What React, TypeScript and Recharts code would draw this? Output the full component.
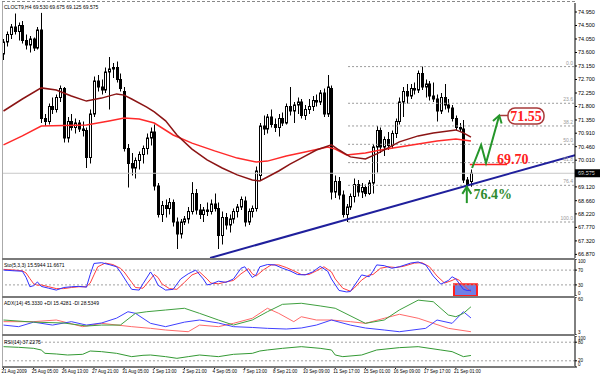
import React from "react";
import {
  ComposedChart,
  Bar,
  Line,
  Scatter,
  XAxis,
  YAxis,
  ReferenceLine,
  ReferenceArea,
} from "recharts";

const TITLE = "CLOCT9,H4  69.530 69.675 69.125 69.575";
const STO_TITLE = "Sto(5,3,3) 15.5944 11.6671";
const ADX_TITLE = "ADX(14) 45.3330 +DI 15.4281 -DI 28.5349";
const RSI_TITLE = "RSI(14) 37.2275";

// open, high, low, close for each H4 bar
const candles = [
  [73.55, 74.05, 73.35, 73.95], [73.95, 74.3, 73.8, 74.2], [74.2, 74.55, 74.05, 74.45], [74.45, 74.9, 74.2, 74.3],
  [74.3, 74.6, 74.0, 74.5], [74.5, 74.65, 73.9, 74.0], [74.0, 74.2, 73.7, 73.85], [73.85, 74.15, 73.6, 74.05],
  [74.05, 74.1, 73.65, 73.75], [73.75, 74.45, 73.7, 74.35], [74.35, 74.92, 71.25, 71.4], [71.4, 71.55, 71.15, 71.3],
  [71.3, 71.9, 71.2, 71.8], [71.8, 72.1, 71.55, 71.7], [71.7, 72.2, 71.6, 72.1], [72.1, 72.5, 71.95, 72.4],
  [72.4, 72.45, 70.6, 70.75], [70.75, 71.45, 70.6, 71.3], [71.3, 71.55, 71.0, 71.1], [71.1, 71.4, 70.9, 71.25],
  [71.25, 71.35, 70.95, 71.05], [71.05, 71.3, 70.8, 71.0], [71.0, 71.1, 69.75, 70.1], [70.1, 71.7, 69.9, 71.55],
  [71.55, 72.8, 71.45, 72.65], [72.65, 72.85, 72.3, 72.45], [72.45, 72.7, 72.2, 72.35], [72.35, 73.1, 72.25, 72.95],
  [72.95, 73.45, 71.7, 73.05], [73.05, 73.25, 72.75, 73.1], [73.1, 73.3, 72.6, 72.7], [72.7, 72.9, 72.3, 72.4],
  [72.3, 72.45, 70.3, 70.4], [70.4, 70.55, 69.1, 69.9], [69.9, 70.25, 69.5, 69.75], [69.75, 70.1, 69.4, 70.0],
  [70.0, 70.3, 69.7, 70.2], [70.2, 70.5, 69.9, 70.4], [70.4, 70.9, 70.2, 70.75], [70.75, 71.1, 70.5, 70.95],
  [70.95, 71.2, 69.0, 69.15], [69.15, 69.25, 68.1, 68.2], [68.2, 68.65, 67.95, 68.5], [68.5, 68.7, 68.1, 68.4],
  [68.4, 68.75, 68.2, 68.6], [68.6, 68.7, 67.8, 67.95], [67.95, 68.1, 67.05, 67.55], [67.55, 68.05, 67.4, 67.95],
  [67.95, 68.15, 67.85, 68.05], [68.05, 68.45, 67.9, 68.3], [68.3, 69.28, 68.2, 68.9], [68.9, 69.05, 68.2, 68.35],
  [68.35, 68.55, 68.05, 68.2], [68.2, 68.45, 67.95, 68.35], [68.35, 68.6, 68.15, 68.3], [68.3, 68.7, 68.2, 68.55],
  [68.55, 68.9, 68.3, 68.4], [68.4, 68.6, 67.05, 67.5], [67.5, 68.3, 67.2, 68.1], [68.1, 68.25, 67.7, 67.85],
  [67.85, 68.2, 67.6, 68.05], [68.05, 68.4, 67.9, 68.3], [68.3, 68.55, 68.1, 68.45], [68.45, 68.8, 68.35, 68.7],
  [68.65, 68.8, 67.8, 67.95], [67.95, 68.4, 67.85, 68.3], [68.3, 68.5, 68.1, 68.4], [68.4, 69.8, 68.3, 69.65],
  [69.5, 71.25, 69.35, 71.15], [71.15, 71.5, 70.85, 71.05], [71.05, 71.55, 70.9, 71.45], [71.45, 71.7, 71.1, 71.2],
  [71.2, 71.4, 70.95, 71.1], [71.1, 71.55, 70.8, 71.4], [71.4, 71.6, 71.15, 71.25], [71.25, 71.9, 71.2, 71.8],
  [71.8, 72.45, 71.5, 71.65], [71.65, 71.95, 71.25, 71.85], [71.85, 72.1, 71.55, 71.95], [71.95, 72.05, 71.4, 71.5],
  [71.5, 71.85, 71.35, 71.7], [71.7, 72.05, 71.55, 71.8], [71.8, 72.15, 71.65, 72.0], [72.0, 72.2, 71.8, 71.95],
  [71.95, 72.35, 71.85, 72.25], [72.25, 72.4, 71.45, 71.55], [71.55, 72.85, 71.45, 72.45], [72.4, 72.5, 68.7, 68.95],
  [68.95, 69.5, 68.75, 69.3], [69.3, 69.45, 68.7, 68.85], [68.85, 69.0, 68.1, 68.2], [68.2, 68.55, 67.95, 68.45],
  [68.45, 68.9, 68.35, 68.8], [68.8, 69.4, 68.6, 69.2], [69.2, 69.35, 68.8, 68.95], [68.95, 69.25, 68.75, 69.1],
  [69.1, 69.2, 68.8, 68.9], [68.9, 69.35, 68.85, 69.25], [69.25, 70.55, 68.9, 70.45], [70.45, 71.15, 69.6, 71.0],
  [71.0, 71.1, 70.25, 70.45], [70.45, 70.8, 70.15, 70.7], [70.7, 70.95, 70.35, 70.5], [70.5, 71.0, 70.4, 70.9],
  [70.9, 71.4, 70.75, 71.3], [71.3, 72.1, 71.2, 71.95], [71.95, 72.45, 71.45, 72.3], [72.3, 72.55, 71.9, 72.15],
  [72.15, 72.55, 72.05, 72.4], [72.4, 72.6, 72.2, 72.35], [72.35, 73.0, 72.25, 72.9], [72.9, 73.13, 72.35, 72.45],
  [72.45, 72.7, 72.1, 72.55], [72.55, 72.65, 72.0, 72.15], [72.15, 72.6, 71.95, 72.05], [72.05, 72.2, 71.3, 71.65],
  [71.65, 72.25, 71.55, 72.1], [72.1, 72.55, 71.7, 71.85], [71.85, 72.05, 71.6, 71.75], [71.75, 71.85, 71.3, 71.4],
  [71.4, 71.5, 71.0, 71.1], [71.1, 71.25, 70.95, 71.05], [71.05, 71.35, 69.25, 69.35], [69.35, 69.45, 69.1, 69.2],
  [69.3, 69.7, 69.125, 69.575],
];

const timeLabels = [
  "21 Aug 2009", "25 Aug 05:00", "26 Aug 13:00", "27 Aug 21:00", "31 Aug 05:00", "1 Sep 13:00",
  "2 Sep 21:00", "4 Sep 05:00", "7 Sep 13:00", "8 Sep 21:00", "10 Sep 09:00", "11 Sep 17:00",
  "15 Sep 01:00", "16 Sep 09:00", "17 Sep 17:00", "21 Sep 01:00",
];
const timeTicks = timeLabels.map((_, i) => i * 8);

const priceTicks = [
  74.95, 74.5, 74.05, 73.6, 73.15, 72.7, 72.25, 71.8, 71.35, 70.91, 70.46, 70.01,
  69.56, 69.12, 68.66, 68.22, 67.77, 67.32, 66.87,
];
const lastPrice = 69.575;

// moving averages: [bar, price]
const maDark = [
  [0, 71.65], [5, 72.05], [10, 72.42], [14, 72.35], [18, 72.15], [22, 71.98], [26, 72.08], [30, 72.22],
  [32, 72.18], [34, 72.05], [38, 71.78], [40, 71.62], [43, 71.32], [46, 70.85], [50, 70.38], [54, 70.02],
  [58, 69.75], [62, 69.52], [66, 69.35], [68, 69.32], [70, 69.45], [73, 69.65], [76, 69.88], [79, 70.08],
  [83, 70.35], [87, 70.52], [89, 70.35], [92, 70.12], [96, 70.05], [99, 70.22], [102, 70.42], [105, 70.62],
  [110, 70.82], [114, 70.92], [120, 71.02], [122, 70.92], [124, 70.78],
];
const maRed = [
  [0, 70.52], [5, 70.82], [10, 71.15], [16, 71.17], [22, 71.18], [28, 71.32], [32, 71.42], [36, 71.38],
  [40, 71.25], [45, 70.85], [50, 70.58], [56, 70.32], [62, 70.08], [67, 69.95], [70, 69.98], [75, 70.15],
  [80, 70.28], [86, 70.45], [88, 70.38], [91, 70.18], [96, 70.25], [100, 70.35], [105, 70.45], [110, 70.55],
  [115, 70.65], [120, 70.72], [124, 70.65],
];

const trendLine = [[54.8, 66.75], [151.6, 70.18]];
const fibStartBar = 91.4;
const fibHigh = 73.13;
const fibLow = 67.95;
const fibLevels = [0, 23.6, 38.2, 50, 61.8, 76.4, 100];

// hand-drawn forecast marks
const targetLine = [[123.7, 69.87], [133.6, 69.87]];
const zigzag = [[124.3, 69.75], [126.7, 70.52], [128.0, 69.92], [131.5, 71.5]];
const upArrow = [[122.9, 68.58], [122.9, 69.12]];
const boxLink = [[131.7, 71.5], [134, 71.5]];
const notes = [
  { bar: 135.1, price: 70.05, text: "69.70", color: "#ff2020", box: false },
  { bar: 129.8, price: 68.88, text: "76.4%", color: "#2e8b2e", box: false },
  { bar: 138.6, price: 71.48, text: "71.55", color: "#ff2020", box: true },
];

// stochastic: [bar, value]
const stoMain = [
  [0, 70], [3, 68], [5, 67], [6, 50], [7, 25], [8, 28], [9, 38], [10, 26], [12, 21], [14, 16], [16, 23],
  [18, 25], [20, 26], [22, 24], [23, 58], [24, 88], [26, 90], [28, 85], [30, 79], [31, 65], [33, 33],
  [34, 18], [36, 16], [37, 33], [39, 65], [40, 50], [41, 29], [43, 16], [45, 18], [47, 46], [49, 60],
  [51, 70], [53, 46], [54, 30], [55, 32], [57, 40], [59, 37], [61, 46], [63, 75], [64, 79], [66, 50],
  [67, 57], [68, 79], [70, 85], [72, 84], [74, 75], [76, 68], [78, 58], [80, 57], [82, 65], [84, 80],
  [86, 67], [87, 46], [89, 15], [91, 11], [92, 12], [94, 42], [95, 57], [97, 52], [98, 67], [99, 84],
  [101, 82], [103, 75], [105, 79], [108, 89], [110, 92], [112, 84], [114, 54], [116, 32], [118, 42],
  [119, 52], [120, 46], [121, 32], [122, 18], [123, 15], [124, 15.59],
];
const stoSignal = [
  [0, 72], [3, 70], [5, 68], [6, 62], [7, 47], [8, 33], [9, 29], [10, 30], [12, 25], [14, 20], [16, 20],
  [18, 23], [20, 25], [22, 25], [23, 35], [24, 57], [25, 79], [27, 89], [29, 85], [31, 75], [32, 65],
  [34, 37], [35, 23], [37, 21], [38, 33], [40, 58], [41, 50], [42, 33], [44, 20], [46, 18], [48, 37],
  [50, 57], [52, 65], [54, 46], [55, 35], [57, 33], [59, 38], [61, 42], [63, 60], [65, 74], [66, 60],
  [67, 54], [69, 71], [71, 84], [73, 84], [75, 77], [77, 68], [79, 58], [81, 58], [83, 68], [85, 79],
  [87, 65], [88, 46], [90, 21], [92, 13], [93, 21], [95, 43], [97, 57], [98, 58], [100, 75], [102, 79],
  [104, 77], [106, 80], [109, 89], [111, 90], [113, 79], [115, 54], [117, 35], [119, 42], [120, 47],
  [121, 42], [122, 29], [123, 20], [124, 11.67],
];
const stoLevels = [70, 30];
const stoTicks = [100, 70, 30, 0];

// ADX panel: [bar, value]
const adxLine = [
  [0, 25.5], [8, 22.3], [16, 21], [22, 16.5], [26, 17.9], [31, 17.9], [35, 35.5], [38, 37.9], [43, 40.5],
  [48, 43.1], [52, 35.5], [57, 25.5], [61, 17.9], [66, 25.5], [70, 37.9], [74, 49], [79, 50.6], [84, 46.6],
  [88, 43.1], [96, 20.5], [101, 25.5], [105, 40.5], [110, 55.3], [114, 52.9], [118, 33], [120, 30.4],
  [122, 35.5], [124, 45.33],
];
const diBlue = [
  [0, 17.9], [4, 15.5], [8, 22.3], [13, 17.9], [18, 23], [22, 17.9], [26, 21], [30, 28.3], [33, 37.9],
  [35, 35.5], [39, 20.5], [43, 15.5], [48, 22.3], [52, 25.5], [57, 21], [61, 15.5], [66, 14.3], [70, 13],
  [75, 12], [79, 13.5], [83, 17.9], [87, 25.5], [92, 17.9], [96, 13.5], [101, 10.5], [105, 7.9], [112, 13],
  [115, 25.5], [119, 20.5], [122, 37.9], [124, 28.53],
];
const diRed = [
  [0, 23], [8, 23], [14, 25.5], [21, 15.5], [26, 20.5], [34, 15.5], [39, 13], [43, 10.5], [49, 7.9],
  [52, 17.9], [57, 15.5], [61, 20.5], [66, 28.1], [70, 43.1], [73, 35.5], [77, 23], [79, 30.4], [83, 25.5],
  [87, 25.5], [92, 23], [96, 20.5], [101, 28.1], [105, 34.1], [110, 28.1], [114, 20.5], [118, 13], [124, 7.9],
];
const adxTicks = [60, 3];

// RSI: [bar, value]
const rsiLine = [
  [0, 65.6], [4, 63.5], [8, 60.2], [10, 54.9], [11, 44.1], [14, 42], [17, 38.7], [21, 40.9], [23, 51.6],
  [26, 49.5], [30, 44.1], [34, 33.4], [37, 37.7], [39, 38.7], [43, 33.4], [46, 28], [49, 33.4], [52, 38.7],
  [55, 35.5], [57, 33.4], [61, 40.9], [66, 44.1], [68, 51.6], [70, 54.9], [74, 60.2], [79, 65.6], [84, 60.2],
  [87, 54.9], [88, 38.7], [90, 33.4], [95, 38.7], [99, 54.9], [105, 62.4], [110, 65.6], [116, 54.9],
  [119, 49.5], [122, 33.4], [124, 37.23],
];
const rsiLevels = [80, 20];
const rsiTicks = [100, 80, 20, 0];

const X_DOMAIN = [-0.4, 151.6];
const FONT = "Liberation Sans, Arial, sans-serif";

const pts = (arr: number[][]) => arr.map(([bar, v]) => ({ bar, v }));

function Candle(props: any) {
  const { x, y, width, height, payload } = props;
  const { o, h, l, c } = payload;
  const k = height / (h - l);
  const cx = Math.round(x + width / 2) + 0.5;
  const yo = y + (h - o) * k;
  const yc = y + (h - c) * k;
  const top = Math.min(yo, yc);
  const bh = Math.max(1, Math.abs(yc - yo));
  const up = c >= o;
  return (
    <g>
      <line x1={cx} x2={cx} y1={y} y2={y + height} stroke="#000" strokeWidth={1} />
      <rect x={cx - 1} y={top} width={2} height={bh} fill={up ? "#fff" : "#000"} stroke="#000" strokeWidth={1} />
    </g>
  );
}

// edge labels sit inside the panel, the way the terminal draws them
function AxisTick(props: any) {
  const { x, y, payload, digits, lo, hi, size = 5.5 } = props;
  let nudge = 0;
  if (hi !== undefined && payload.value === hi) nudge = 2.5;
  if (lo !== undefined && payload.value === lo) nudge = -2.5;
  return (
    <text x={x} y={y + nudge} dy={size * 0.36} fontSize={size} fontFamily={FONT} fill="#000" textAnchor="start">
      {digits ? payload.value.toFixed(digits) : String(payload.value)}
    </text>
  );
}

function TimeTick(props: any) {
  const { x, y, payload } = props;
  const idx = timeTicks.indexOf(payload.value);
  return (
    <text x={x - 2} y={y} dy={3} fontSize={4.5} fontFamily={FONT} fill="#000" textAnchor="start">
      {timeLabels[idx]}
    </text>
  );
}

function ArrowTip({ cx, cy, angle, color }: any) {
  return (
    <path
      d="M -7 -4.5 L 0 0 L -7 4.5"
      transform={`translate(${cx},${cy}) rotate(${angle})`}
      fill="none"
      stroke={color}
      strokeWidth={2}
    />
  );
}

function NoteShape(props: any) {
  const { cx, cy, payload } = props;
  return (
    <g>
      {payload.box && (
        <rect x={cx - 18} y={cy - 8} width={36} height={16} rx={7} fill="#fff" stroke="#a83a3a" strokeWidth={1.5} />
      )}
      <text
        x={cx}
        y={cy}
        dy={4.5}
        textAnchor="middle"
        fontFamily="Liberation Serif, Times New Roman, serif"
        fontWeight="bold"
        fontSize={14}
        fill={payload.color}
      >
        {payload.text}
      </text>
    </g>
  );
}

function PriceTag(props: any) {
  const { viewBox } = props;
  const x = viewBox.x + viewBox.width;
  return (
    <g>
      <rect x={x} y={viewBox.y - 4} width={25} height={8} fill="#000" />
      <text x={x + 3} y={viewBox.y} dy={2} fontSize={5.5} fontFamily={FONT} fill="#fff">
        {lastPrice.toFixed(3)}
      </text>
    </g>
  );
}

const titleStyle: React.CSSProperties = {
  position: "absolute",
  left: 4,
  fontSize: 5,
  fontFamily: FONT,
  color: "#000",
  whiteSpace: "nowrap",
  lineHeight: "6px",
};

const sep = (top: number): React.CSSProperties => ({
  position: "absolute",
  left: 2,
  top,
  width: 573,
  height: 2,
  background: "#7a7a7a",
});

export default function App() {
  const rows = candles.map(([o, h, l, c], i) => ({ bar: i, o, h, l, c, range: [l, h] }));
  const fibRange = fibHigh - fibLow;
  const lastZig = zigzag.length - 1;

  const subY = (domain: number[], ticks: number[]) => (
    <YAxis
      orientation="right"
      type="number"
      domain={domain}
      ticks={ticks}
      interval={0}
      width={25}
      tickSize={2}
      tickMargin={1}
      tickLine={{ stroke: "#000" }}
      axisLine={{ stroke: "#000" }}
      tick={<AxisTick lo={domain[0]} hi={domain[1]} size={4.6} />}
      allowDataOverflow
    />
  );

  return (
    <div style={{ position: "absolute", left: 0, top: 0, width: 600, height: 376, background: "#fff", overflow: "hidden" }}>
      <div style={{ position: "absolute", left: 0, top: 0 }}>
        <ComposedChart width={600} height={258} data={rows} margin={{ top: 3, right: 0, bottom: 0, left: 2 }}>
          <XAxis dataKey="bar" type="number" domain={X_DOMAIN} hide allowDataOverflow />
          <YAxis
            orientation="right"
            type="number"
            domain={[66.75, 75.25]}
            ticks={priceTicks}
            interval={0}
            width={25}
            tickSize={2}
            tickMargin={1}
            tickLine={{ stroke: "#000" }}
            axisLine={{ stroke: "#000" }}
            tick={<AxisTick digits={3} />}
            allowDataOverflow
          />
          <ReferenceLine y={lastPrice} stroke="#c8c8c8" strokeWidth={1} label={<PriceTag />} />
          {fibLevels.map((lv) => {
            const p = fibHigh - (lv / 100) * fibRange;
            return (
              <ReferenceLine
                key={lv}
                segment={[{ x: fibStartBar, y: p }, { x: X_DOMAIN[1], y: p }]}
                stroke="#9a9a9a"
                strokeDasharray="2 2"
                label={{ value: lv.toFixed(1), position: "insideBottomRight", offset: 2, fontSize: 5, fill: "#999", fontFamily: FONT }}
              />
            );
          })}
          <Bar dataKey="range" barSize={3} shape={(p: any) => <Candle {...p} />} isAnimationActive={false} />
          <Line data={pts(maRed)} dataKey="v" stroke="#ff2a2a" strokeWidth={1.5} dot={false} isAnimationActive={false} />
          <Line data={pts(maDark)} dataKey="v" stroke="#8b1414" strokeWidth={1.5} dot={false} isAnimationActive={false} />
          <ReferenceLine
            segment={trendLine.map(([x, y]) => ({ x, y }))}
            stroke="#1f1f9c"
            strokeWidth={2}
            ifOverflow="hidden"
          />
          <ReferenceLine segment={targetLine.map(([x, y]) => ({ x, y }))} stroke="#ff2020" strokeWidth={1.5} />
          <ReferenceLine segment={boxLink.map(([x, y]) => ({ x, y }))} stroke="#a83a3a" strokeWidth={1.5} />
          <Line
            data={pts(zigzag)}
            dataKey="v"
            stroke="#25962a"
            strokeWidth={2}
            isAnimationActive={false}
            dot={(p: any) =>
              p.index === lastZig ? (
                <ArrowTip key="tip" cx={p.cx} cy={p.cy} angle={-74} color="#25962a" />
              ) : (
                <g key={p.index} />
              )
            }
          />
          <Line
            data={pts(upArrow)}
            dataKey="v"
            stroke="#25962a"
            strokeWidth={2}
            isAnimationActive={false}
            dot={(p: any) =>
              p.index === 1 ? <ArrowTip key="tip" cx={p.cx} cy={p.cy} angle={-90} color="#25962a" /> : <g key={p.index} />
            }
          />
          <Scatter data={notes} dataKey="price" shape={(p: any) => <NoteShape {...p} />} isAnimationActive={false} />
        </ComposedChart>
      </div>

      <div style={{ position: "absolute", left: 0, top: 259 }}>
        <ComposedChart width={600} height={37} margin={{ top: 0, right: 0, bottom: 0, left: 2 }}>
          <XAxis dataKey="bar" type="number" domain={X_DOMAIN} hide allowDataOverflow />
          {subY([0, 100], stoTicks)}
          {stoLevels.map((v) => (
            <ReferenceLine key={v} y={v} stroke="#a0a0a0" strokeDasharray="2 2" />
          ))}
          <ReferenceArea x1={119.5} x2={125.6} y1={0} y2={32} fill="#6f7fe6" fillOpacity={1} stroke="#ff2020" strokeWidth={2} />
          <Line data={pts(stoSignal)} dataKey="v" stroke="#ff4040" strokeWidth={1} dot={false} isAnimationActive={false} />
          <Line data={pts(stoMain)} dataKey="v" stroke="#3030ff" strokeWidth={1} dot={false} isAnimationActive={false} />
        </ComposedChart>
      </div>

      <div style={{ position: "absolute", left: 0, top: 297 }}>
        <ComposedChart width={600} height={38} margin={{ top: 0, right: 0, bottom: 0, left: 2 }}>
          <XAxis dataKey="bar" type="number" domain={X_DOMAIN} hide allowDataOverflow />
          {subY([3, 60], adxTicks)}
          <Line data={pts(diRed)} dataKey="v" stroke="#ff6a6a" strokeWidth={1} dot={false} isAnimationActive={false} />
          <Line data={pts(diBlue)} dataKey="v" stroke="#4040ff" strokeWidth={1} dot={false} isAnimationActive={false} />
          <Line data={pts(adxLine)} dataKey="v" stroke="#3fa03f" strokeWidth={1} dot={false} isAnimationActive={false} />
        </ComposedChart>
      </div>

      <div style={{ position: "absolute", left: 0, top: 336 }}>
        <ComposedChart width={600} height={40} margin={{ top: 0, right: 0, bottom: 0, left: 2 }}>
          <XAxis
            dataKey="bar"
            type="number"
            domain={X_DOMAIN}
            ticks={timeTicks}
            interval={0}
            height={9}
            tickSize={2}
            tickMargin={1}
            tickLine={{ stroke: "#000" }}
            axisLine={false}
            tick={<TimeTick />}
            allowDataOverflow
          />
          {subY([0, 100], rsiTicks)}
          {rsiLevels.map((v) => (
            <ReferenceLine key={v} y={v} stroke="#a0a0a0" strokeDasharray="2 2" />
          ))}
          <Line data={pts(rsiLine)} dataKey="v" stroke="#339933" strokeWidth={1} dot={false} isAnimationActive={false} />
        </ComposedChart>
      </div>

      <div style={{ position: "absolute", left: 2, top: 1, width: 573, borderTop: "1px dashed #888" }} />
      <div style={{ position: "absolute", left: 2, top: 2, height: 365, borderLeft: "1px solid #aaa" }} />
      <div style={sep(258)} />
      <div style={sep(296)} />
      <div style={sep(334)} />
      <div style={sep(366)} />

      <div style={{ ...titleStyle, top: 4 }}>{TITLE}</div>
      <div style={{ ...titleStyle, top: 262 }}>{STO_TITLE}</div>
      <div style={{ ...titleStyle, top: 300 }}>{ADX_TITLE}</div>
      <div style={{ ...titleStyle, top: 339 }}>{RSI_TITLE}</div>
    </div>
  );
}
